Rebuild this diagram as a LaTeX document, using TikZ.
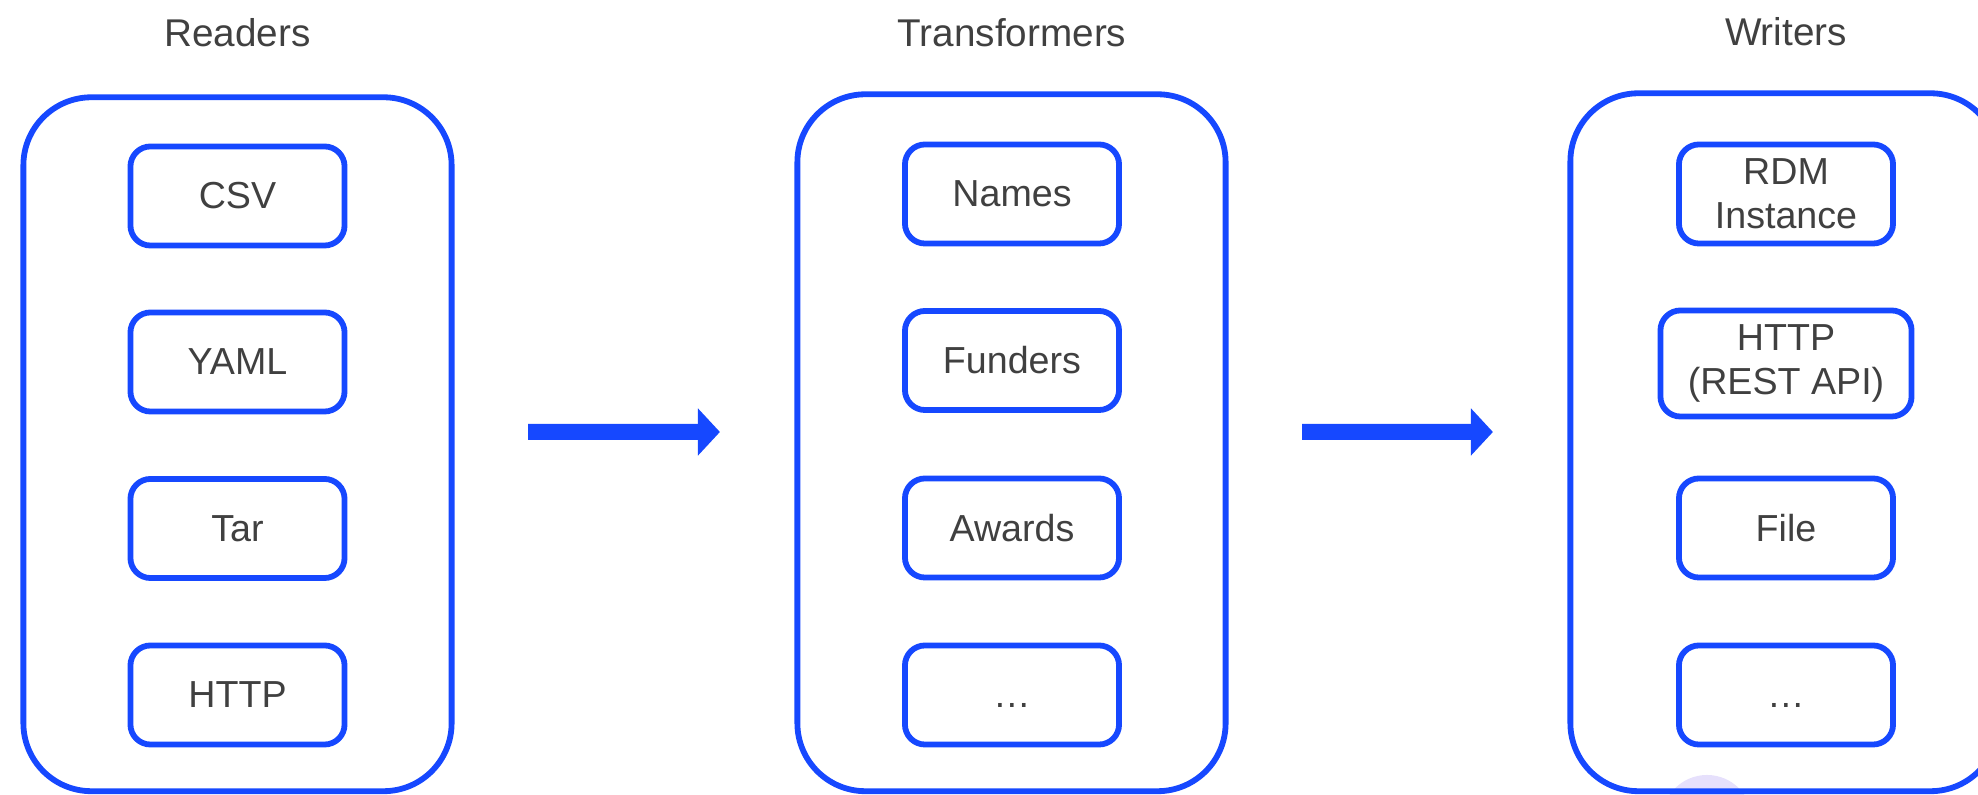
\documentclass[tikz,border=0pt]{standalone}
\usepackage{fontspec}
\setmainfont{Liberation Sans}
\usetikzlibrary{arrows.meta, positioning}
\definecolor{colLine}{RGB}{22, 72, 255}
\definecolor{colText}{RGB}{64, 64, 64}
\definecolor{colDot}{RGB}{230, 224, 252}

\begin{document}
\begin{tikzpicture}[x=0.01cm, y=-0.01cm,
    every node/.style={font=\fontsize{10.7}{12.5}\selectfont, text=colText},
    stage/.style={draw=colLine, line width=1.65pt, rounded corners=0.68cm, minimum width=4.28cm},
    item/.style={draw=colLine, line width=1.65pt, rounded corners=0.2cm, minimum width=2.14cm,
        minimum height=0.99cm, align=center, inner sep=0pt},
    title/.style={anchor=base, font=\fontsize{11}{13}\selectfont},
    flow/.style={draw=colLine, line width=0.16cm, -{Triangle[length=0.22cm, width=0.46cm]},
        shorten <=0.735cm, shorten >=0.745cm}]
    \useasboundingbox (0, 0) rectangle (1978, 795);
    \clip (0, 0) rectangle (1978, 795);

    % --- Faint mark behind the writers ---
    \fill[colDot] (1707, 820) circle (0.45cm);

    % --- Stage headers ---
    \node[title] (tRd) at (237.5, 47) {Readers};
    \node[title] (tTf) at (1012, 47) {Transformers};
    \node[title] (tWr) at (1786, 46) {Writers};

    % --- Stage frames ---
    \node[stage, minimum height=6.935cm] (rd) at (237.5, 444.25) {};
    \node[stage, minimum height=6.965cm] (tf) at (1011.5, 442.75) {};
    \node[stage, minimum height=6.975cm] (wr) at (1784.5, 442.25) {};

    % --- Readers ---
    \foreach \y/\n/\t in {196/csv/CSV, 362/yaml/YAML, 528.5/tar/Tar, 695/httpIn/HTTP}
        \node[item] (\n) at (237.5, \y) {\t};

    % --- Transformers ---
    \foreach \y/\n/\t in {194/names/Names, 360.5/funders/Funders, 528/awards/Awards, 695/moreTf/\vphantom{H}…}
        \node[item] (\n) at (1012, \y) {\t};

    % --- Writers ---
    \node[item] (rdm) at (1786, 194) {RDM\\Instance};
    \node[item, minimum width=2.51cm, minimum height=1.06cm] (httpOut) at (1786, 363.5) {HTTP\\(REST API)};
    \node[item] (file) at (1786, 528) {File};
    \node[item] (moreWr) at (1786, 695) {\vphantom{H}…};

    % --- Arrows between the stages ---
    \draw[flow] ([yshift=0.1225cm]rd.east) -- ([yshift=0.1075cm]tf.west);
    \draw[flow] ([yshift=0.1075cm]tf.east) -- ([yshift=0.1025cm]wr.west);
\end{tikzpicture}
\end{document}
